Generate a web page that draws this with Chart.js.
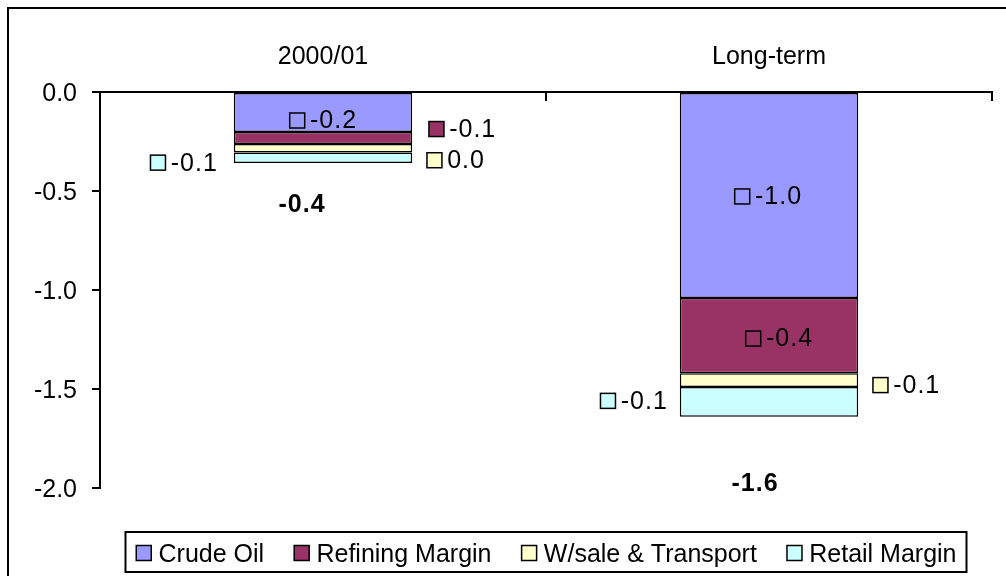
<!DOCTYPE html>
<html>
<head>
<meta charset="utf-8">
<title>Price change decomposition</title>
<script src="https://cdn.jsdelivr.net/npm/chart.js@4.4.1/dist/chart.umd.min.js"></script>
<style>
  html, body { margin: 0; padding: 0; background: #fff; }
  canvas { display: block; }
</style>
</head>
<body>
<canvas id="priceChart" width="1006" height="576"></canvas>
<script>
// categories and series values
const categories = ['2000/01', 'Long-term'];
const crudeOil = [-0.202, -1.04];
const refiningMargin = [-0.061, -0.38];
const wsaleTransport = [-0.042, -0.07];
const retailMargin = [-0.053, -0.15];

// y axis range / ticks
const yMin = -2.0;
const yMax = 0.0;
const yStep = 0.5;

const seriesNames = ['Crude Oil', 'Refining Margin', 'W/sale & Transport', 'Retail Margin'];
const seriesColors = ['#9999FF', '#993366', '#FFFFCC', '#CCFFFF'];

const FONT = '"Liberation Sans", Arial, sans-serif';

// one decimal, no "-0.0"
const fmt = v => Number(v.toFixed(1)).toFixed(1);

// where each data label sits relative to its bar: [mode, dx, dy]
const labelPlacement = [
    [['center', 0, 9], ['center', -1, 2]],
    [['right', 16, -8], ['center', 10, 4]],
    [['right', 14, 13], ['right', 14, 6]],
    [['left', 16, 6], ['left', 12, 0]]
];
// total labels: [dx from bar centre, dy below stack bottom]
const totalPlacement = [[-21, 42], [-14, 67]];

// white page + outer frame
const framePlugin = {
    id: 'frame',
    beforeDraw(chart) {
        const ctx = chart.ctx;
        ctx.save();
        ctx.fillStyle = '#fff';
        ctx.fillRect(0, 0, chart.width, chart.height);
        ctx.strokeStyle = '#000';
        ctx.lineWidth = 2;
        ctx.strokeRect(8, 8, chart.width + 100, chart.height + 100);
        ctx.restore();
    }
};

// category tick marks pointing down from the top axis
const xTickPlugin = {
    id: 'xTicks',
    afterDraw(chart) {
        const ctx = chart.ctx;
        const area = chart.chartArea;
        const n = chart.data.labels.length;
        ctx.save();
        ctx.strokeStyle = '#000';
        ctx.lineWidth = 2;
        for (let i = 1; i <= n; i++) {
            const x = Math.round(area.left + i * (area.right - area.left) / n);
            ctx.beginPath();
            ctx.moveTo(x, area.top);
            ctx.lineTo(x, area.top + 9);
            ctx.stroke();
        }
        ctx.restore();
    }
};

function drawKey(ctx, x, cy, color) {
    ctx.fillStyle = color;
    ctx.fillRect(x + 0.75, cy - 7.5, 15, 15);
    ctx.lineWidth = 1.5;
    ctx.strokeStyle = '#000';
    ctx.strokeRect(x + 0.75, cy - 7.5, 15, 15);
}

// data labels with a legend key, plus bold totals
const labelPlugin = {
    id: 'keyLabels',
    afterDatasetsDraw(chart) {
        const ctx = chart.ctx;
        ctx.save();
        ctx.font = '25px ' + FONT;
        ctx.letterSpacing = '1px';
        ctx.textBaseline = 'middle';
        ctx.textAlign = 'left';
        chart.data.datasets.forEach((ds, i) => {
            const meta = chart.getDatasetMeta(i);
            meta.data.forEach((el, j) => {
                const [mode, dx, dy] = labelPlacement[i][j];
                const text = fmt(ds.data[j]);
                const tw = ctx.measureText(text).width;
                const gw = 16 + 5 + tw;
                const left = el.x - el.width / 2;
                const right = el.x + el.width / 2;
                const cy = (el.y + el.base) / 2 + dy;
                let gx;
                if (mode === 'center') gx = el.x + dx - gw / 2;
                else if (mode === 'right') gx = right + dx;
                else gx = left - dx - gw;
                drawKey(ctx, gx, cy - 1, ds.backgroundColor);
                ctx.fillStyle = '#000';
                ctx.fillText(text, gx + 21, cy);
            });
        });

        // totals under each stack
        ctx.font = 'bold 25px ' + FONT;
        ctx.textAlign = 'center';
        chart.data.labels.forEach((lab, j) => {
            let total = 0;
            let bottom = 0;
            let cx = 0;
            chart.data.datasets.forEach((ds, i) => {
                total += ds.data[j];
                const el = chart.getDatasetMeta(i).data[j];
                bottom = Math.max(bottom, el.y, el.base);
                cx = el.x;
            });
            const [dx, dy] = totalPlacement[j];
            ctx.fillStyle = '#000';
            ctx.fillText(fmt(total), cx + dx, bottom + dy);
        });
        ctx.restore();
    }
};

// boxed legend at the bottom, centred under the plot
const legendBoxPlugin = {
    id: 'legendBox',
    afterDraw(chart) {
        const ctx = chart.ctx;
        const area = chart.chartArea;
        const cx = (area.left + area.right) / 2;
        const boxW = 841;
        const bx = cx - boxW / 2;
        const by = 532, bh = 40;
        const cy = by + bh / 2 + 1;
        ctx.save();
        ctx.strokeStyle = '#000';
        ctx.lineWidth = 2;
        ctx.strokeRect(bx, by, boxW, bh);
        ctx.font = '25px ' + FONT;
        ctx.textBaseline = 'middle';
        ctx.textAlign = 'left';
        const widths = seriesNames.map(s => ctx.measureText(s).width);
        const used = widths.reduce((a, b) => a + b, 0) + seriesNames.length * (16 + 7);
        const gap = (boxW - 20 - used) / (seriesNames.length - 1);
        let x = bx + 10;
        seriesNames.forEach((name, i) => {
            drawKey(ctx, x, cy, seriesColors[i]);
            ctx.fillStyle = '#000';
            ctx.fillText(name, x + 23, cy + 2);
            x += 23 + widths[i] + gap;
        });
        ctx.restore();
    }
};

document.addEventListener('DOMContentLoaded', function() {
    const ctx = document.getElementById('priceChart').getContext('2d');
    const seriesData = [crudeOil, refiningMargin, wsaleTransport, retailMargin];

    const chartConfig = {
        type: 'bar',
        data: {
            labels: categories,
            datasets: seriesNames.map((name, i) => ({
                label: name,
                data: seriesData[i],
                backgroundColor: seriesColors[i],
                borderColor: '#000',
                borderWidth: 1.5,
                borderSkipped: false,
                barPercentage: 0.4,
                categoryPercentage: 1.0
            }))
        },
        options: {
            responsive: false,
            animation: false,
            layout: {
                padding: { left: 10, top: 10, right: 14, bottom: 88 }
            },
            plugins: {
                legend: { display: false },
                tooltip: { enabled: false },
                title: { display: false }
            },
            scales: {
                x: {
                    position: 'top',
                    stacked: true,
                    grid: { drawOnChartArea: false, drawTicks: false },
                    border: { display: true, color: '#000', width: 2 },
                    ticks: {
                        color: '#000',
                        font: { family: FONT, size: 25 },
                        padding: 20
                    },
                    afterFit: s => { s.height = 82; }
                },
                y: {
                    stacked: true,
                    min: yMin,
                    max: yMax,
                    grid: {
                        drawOnChartArea: false,
                        drawTicks: true,
                        tickLength: 8,
                        color: '#000',
                        lineWidth: 2
                    },
                    border: { display: true, color: '#000', width: 2 },
                    ticks: {
                        stepSize: yStep,
                        color: '#000',
                        font: { family: FONT, size: 25 },
                        padding: 15,
                        labelOffset: 2,
                        callback: v => fmt(v)
                    },
                    afterFit: s => { s.width = 90; }
                }
            }
        },
        plugins: [framePlugin, xTickPlugin, labelPlugin, legendBoxPlugin]
    };

    new Chart(ctx, chartConfig);
});
</script>
</body>
</html>
